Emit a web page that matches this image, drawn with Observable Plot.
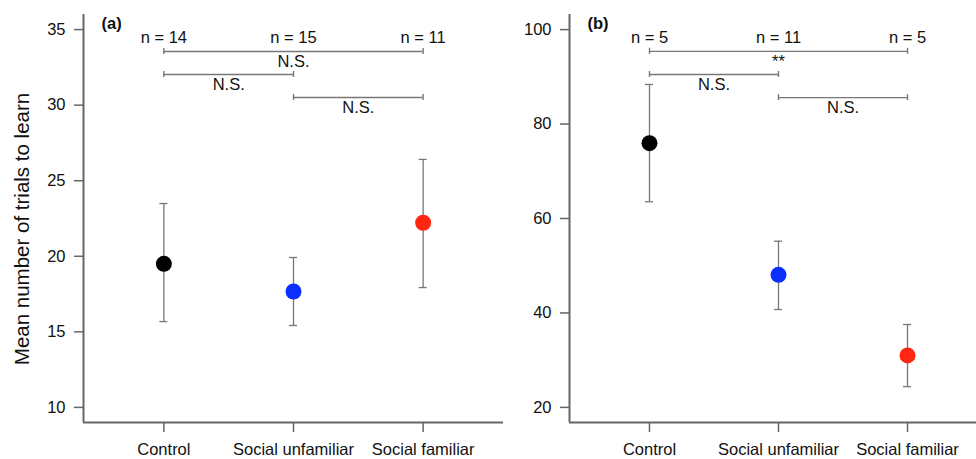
<!DOCTYPE html>
<html>
<head>
<meta charset="utf-8">
<script src="https://cdn.jsdelivr.net/npm/d3@7"></script>
<script src="https://cdn.jsdelivr.net/npm/@observablehq/plot@0.6"></script>
<style>
html, body { margin: 0; padding: 0; background: #fff; overflow: hidden; }
#wrap { position: relative; width: 976px; height: 459px; font-family: "Liberation Sans", Arial, Helvetica, sans-serif; }
#wrap svg { position: absolute; top: 0; }
#ylab { position: absolute; left: 22px; top: 229px; transform: translate(-50%, -50%) rotate(-90deg); font-size: 20.5px; white-space: nowrap; color: #111; }
</style>
</head>
<body>
<div id="wrap"><div id="ylab">Mean number of trials to learn</div></div>
<script>
const categories = ["Control", "Social unfamiliar", "Social familiar"];
const colors = ["#000000", "#0a2fff", "#ff2612"];

// Panel (a)
const meanA = [19.5, 17.67, 22.22];
const upperA = [23.49, 19.92, 26.41];
const lowerA = [15.68, 15.42, 17.93];
const nA = [14, 15, 11];
const yTicksA = [10, 15, 20, 25, 30, 35];
const yDomainA = [9, 36];
const compA = [[0, 2, "N.S."], [0, 1, "N.S."], [1, 2, "N.S."]];
const levelsA = [33.55, 32.03, 30.51];

// Panel (b)
const meanB = [75.95, 48.08, 31.0];
const upperB = [88.38, 55.19, 37.55];
const lowerB = [63.54, 40.73, 24.4];
const nB = [5, 11, 5];
const yTicksB = [20, 40, 60, 80, 100];
const yDomainB = [16.8, 103.2];
const compB = [[0, 2, "**"], [0, 1, "N.S."], [1, 2, "N.S."]];
const levelsB = [95.4, 90.5, 85.6];

const FONT = '"Liberation Sans", Arial, Helvetica, sans-serif';
const FS = 16.5;
const AXIS = "#666";
const BAR = "#777";

function panel({mean, upper, lower, n, yTicks, yDomain, comps, levels, tag, width}) {
  const xDomain = [0.38, 3.62];
  const rows = categories.map((c, i) => ({cat: c, x: i + 1, mean: mean[i], hi: upper[i], lo: lower[i], n: n[i], color: colors[i]}));
  const capHalf = 0.031;
  const tickHalf = (yDomain[1] - yDomain[0]) * 3 / 408;
  const br = comps.map(([a, b, lab], k) => ({x1: a + 1, x2: b + 1, y: levels[k], lab}));
  const brEnds = br.flatMap(d => [{x: d.x1, y: d.y}, {x: d.x2, y: d.y}]);
  return Plot.plot({
    width, height: 459,
    marginLeft: 83, marginRight: 0, marginTop: 14, marginBottom: 37,
    style: {background: "transparent", fontFamily: FONT, fontSize: FS + "px", color: "#111", overflow: "visible"},
    x: {domain: xDomain},
    y: {domain: yDomain},
    color: {type: "identity"},
    marks: [
      Plot.axisY({ticks: yTicks, tickSize: 9, tickPadding: 9, label: null, stroke: AXIS, strokeWidth: 1.5, fontSize: FS}),
      Plot.axisX({ticks: [1, 2, 3], tickFormat: d => categories[d - 1], tickSize: 10, tickPadding: 11, label: null, stroke: AXIS, strokeWidth: 1.5, fontSize: FS}),
      Plot.ruleX([xDomain[0]], {stroke: AXIS, strokeWidth: 2}),
      Plot.ruleY([yDomain[0]], {stroke: AXIS, strokeWidth: 2}),
      // error bars
      Plot.ruleX(rows, {x: "x", y1: "lo", y2: "hi", stroke: BAR, strokeWidth: 1.3}),
      Plot.ruleY(rows, {y: "hi", x1: d => d.x - capHalf, x2: d => d.x + capHalf, stroke: BAR, strokeWidth: 1.3}),
      Plot.ruleY(rows, {y: "lo", x1: d => d.x - capHalf, x2: d => d.x + capHalf, stroke: BAR, strokeWidth: 1.3}),
      Plot.dot(rows, {x: "x", y: "mean", r: 8, fill: "color", stroke: null}),
      // n labels
      Plot.text(rows, {x: "x", text: d => `n = ${d.n}`, frameAnchor: "top", lineAnchor: "middle", dy: 23, fontSize: FS, fill: "#111"}),
      // brackets
      Plot.ruleY(br, {y: "y", x1: "x1", x2: "x2", stroke: BAR, strokeWidth: 1.4}),
      Plot.ruleX(brEnds, {x: "x", y1: d => d.y - tickHalf, y2: d => d.y + tickHalf, stroke: BAR, strokeWidth: 1.4}),
      Plot.text(br, {x: d => (d.x1 + d.x2) / 2, y: "y", text: "lab", lineAnchor: "middle", dy: 10, fontSize: FS, fill: "#111"}),
      // panel tag
      Plot.text([tag], {text: d => d, frameAnchor: "top-left", lineAnchor: "middle", dx: 18, dy: 9, textAnchor: "start", fontWeight: "bold", fontSize: FS, fill: "#111"})
    ]
  });
}

const wrap = document.getElementById("wrap");
const pa = panel({mean: meanA, upper: upperA, lower: lowerA, n: nA, yTicks: yTicksA, yDomain: yDomainA, comps: compA, levels: levelsA, tag: "(a)", width: 503});
pa.style.left = "0px";
wrap.appendChild(pa);
const pb = panel({mean: meanB, upper: upperB, lower: lowerB, n: nB, yTicks: yTicksB, yDomain: yDomainB, comps: compB, levels: levelsB, tag: "(b)", width: 501});
pb.style.left = "486px";
wrap.appendChild(pb);
</script>
</body>
</html>
